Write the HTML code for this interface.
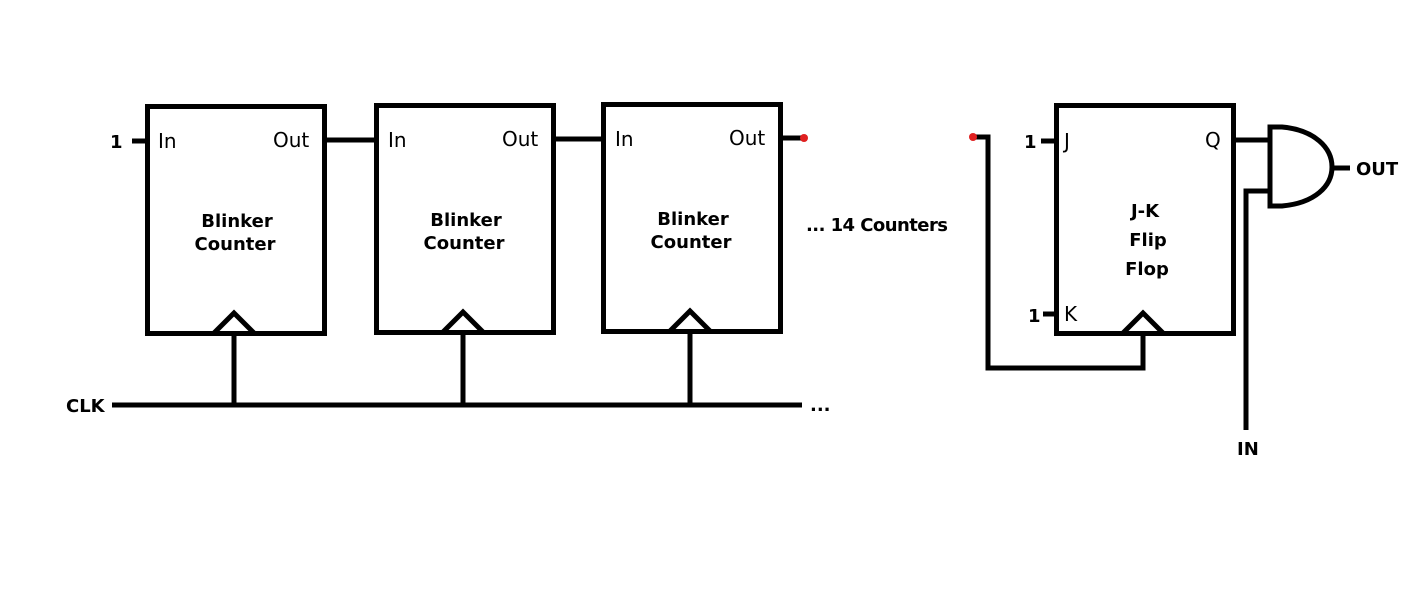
<!DOCTYPE html>
<html><head><meta charset="utf-8"><style>
html,body{margin:0;padding:0;background:#fff;}
svg{display:block;}
text{font-family:"DejaVu Sans","Liberation Sans",sans-serif;fill:#000;}
.b{font-weight:bold;font-size:18px;}
.r{font-size:20px;}
</style></head><body>
<svg width="1407" height="603" viewBox="0 0 1407 603" xmlns="http://www.w3.org/2000/svg">
<g fill="none" stroke="#000" stroke-width="5" stroke-linejoin="miter">
<rect x="147.5" y="106.5" width="177" height="227"/>
<rect x="376.5" y="105.5" width="177" height="227"/>
<rect x="603.5" y="104.5" width="177" height="227"/>
<rect x="1056.5" y="105.5" width="177" height="228"/>
<polyline points="214,333 234,313 254,333"/>
<polyline points="443,332 463,312 483,332"/>
<polyline points="670,331 690,311 710,331"/>
<polyline points="1123,333 1143,313 1163,333"/>
<line x1="234" y1="333" x2="234" y2="405"/>
<line x1="463" y1="332" x2="463" y2="405"/>
<line x1="690" y1="331" x2="690" y2="405"/>
<line x1="112" y1="405" x2="802" y2="405"/>
<line x1="132" y1="141" x2="147" y2="141"/>
<line x1="325" y1="140" x2="376" y2="140"/>
<line x1="554" y1="139" x2="603" y2="139"/>
<line x1="781" y1="138" x2="804" y2="138"/>
<line x1="1041" y1="141" x2="1056" y2="141"/>
<line x1="1043" y1="314" x2="1056" y2="314"/>
<polyline points="973,137 988,137 988,368 1143,368 1143,333"/>
<line x1="1234" y1="140" x2="1270" y2="140"/>
<path d="M1270,127 L1282,127 C1315,130 1332,148 1332,167 C1332,186 1315,203 1282,206 L1270,206 Z"/>
<line x1="1332" y1="168" x2="1350" y2="168"/>
<polyline points="1270,191 1246,191 1246,430"/>
</g>
<circle cx="804" cy="138" r="4" fill="#e02020"/>
<circle cx="973" cy="137" r="4" fill="#e02020"/>
<text class="b" x="110" y="148">1</text>
<text class="r" x="158" y="148">In</text>
<text class="r" x="273" y="147">Out</text>
<text class="r" x="388" y="147">In</text>
<text class="r" x="502" y="146">Out</text>
<text class="r" x="615" y="146">In</text>
<text class="r" x="729" y="145">Out</text>
<text class="b" x="237" y="227" text-anchor="middle">Blinker</text>
<text class="b" x="235" y="250" text-anchor="middle">Counter</text>
<text class="b" x="466" y="226" text-anchor="middle">Blinker</text>
<text class="b" x="464" y="249" text-anchor="middle">Counter</text>
<text class="b" x="693" y="225" text-anchor="middle">Blinker</text>
<text class="b" x="691" y="248" text-anchor="middle">Counter</text>
<text class="b" x="806" y="231" textLength="142">... 14 Counters</text>
<text class="b" x="810" y="411">...</text>
<text class="b" x="66" y="412">CLK</text>
<text class="b" x="1024" y="148">1</text>
<text class="r" x="1064" y="148">J</text>
<text class="r" x="1205" y="147">Q</text>
<text class="b" x="1028" y="322">1</text>
<text class="r" x="1064" y="321">K</text>
<text class="b" x="1145" y="217" text-anchor="middle">J-K</text>
<text class="b" x="1148" y="246" text-anchor="middle">Flip</text>
<text class="b" x="1147" y="275" text-anchor="middle">Flop</text>
<text class="b" x="1356" y="175">OUT</text>
<text class="b" x="1237" y="455">IN</text>
</svg>
</body></html>
